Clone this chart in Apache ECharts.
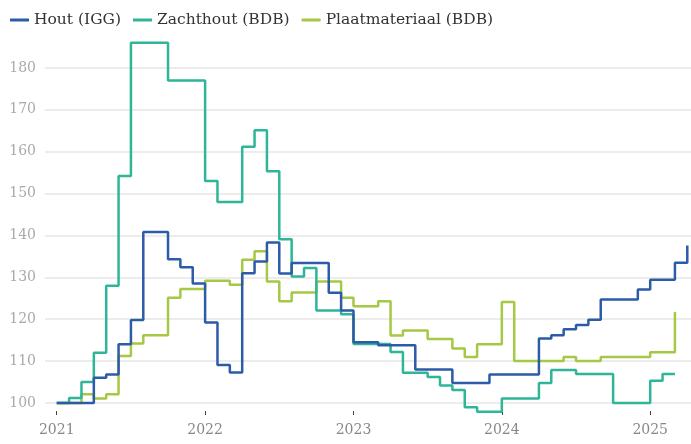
<!DOCTYPE html>
<html>
<head>
<meta charset="utf-8">
<script src="https://cdn.jsdelivr.net/npm/echarts@6/dist/echarts.min.js"></script>
<style>
  html, body { margin: 0; padding: 0; background: #fff; }
  #chart { width: 691px; height: 444px; }
</style>
</head>
<body>
<div id="chart"></div>
<script>
// maandwaarden vanaf januari 2021 (index 0 = jan 2021)
var hout = [100, 100, 100, 106.0, 106.8, 114, 119.8, 140.8, 140.8, 134.3, 132.4, 128.5,
  119.2, 109.1, 107.3, 131, 133.8, 138.3, 130.9, 133.4, 133.4, 133.4, 126.3, 122.1,
  114.5, 114.5, 113.8, 113.8, 113.8, 108, 108, 108, 104.8, 104.8, 104.8, 106.8,
  106.8, 106.8, 106.8, 115.4, 116.2, 117.6, 118.6, 119.9, 124.7, 124.7, 124.7, 127.1,
  129.4, 129.4, 133.5, 137.6];
var zachthout = [100, 101.2, 105, 112, 128, 154.2, 186, 186, 186, 177, 177, 177,
  153, 148, 148, 161.2, 165.1, 155.3, 139.1, 130.2, 132.2, 122.1, 122.1, 121.2,
  114.1, 114.1, 114.1, 112.2, 107.2, 107.2, 106.2, 104.2, 103.1, 99, 97.9, 97.9,
  101.1, 101.1, 101.1, 104.8, 107.9, 107.9, 106.9, 106.9, 106.9, 100, 100, 100,
  105.3, 106.9, 106.9];
var plaat = [100, 100, 102.1, 101.1, 102.1, 111.2, 114.2, 116.2, 116.2, 125.1, 127.2, 127.2,
  129.2, 129.2, 128.2, 134.2, 136.2, 129, 124.3, 126.4, 126.4, 129, 129, 125.1,
  123.1, 123.1, 124.3, 116.1, 117.3, 117.3, 115.3, 115.3, 113, 111, 114, 114,
  124.1, 110, 110, 110, 110, 111, 110, 110, 111, 111, 111, 111,
  112.1, 112.1, 121.7];
var yearLabels = ['2021', '2022', '2023', '2024', '2025'];
var yearTicks = [0, 12, 24, 36, 48];

var font = 'DejaVu Serif';

function pts(arr) {
  return arr.map(function (v, i) { return [i, v]; });
}

var chart = echarts.init(document.getElementById('chart'));
chart.setOption({
  animation: false,
  legend: {
    left: 5,
    top: 7,
    icon: 'rect',
    itemWidth: 19,
    itemHeight: 3,
    itemGap: 12,
    textStyle: { fontFamily: font, fontSize: 15.5, color: '#333' },
    data: ['Hout (IGG)', 'Zachthout (BDB)', 'Plaatmateriaal (BDB)']
  },
  grid: { left: 45, right: 0, top: 26, bottom: 41 },
  xAxis: {
    type: 'value',
    min: -0.95,
    max: 51.3,
    offset: 8,
    axisLine: { show: false },
    splitLine: { show: false },
    axisTick: {
      show: true,
      customValues: yearTicks,
      length: 4,
      lineStyle: { color: '#444', width: 1 }
    },
    axisLabel: {
      customValues: yearTicks,
      margin: 12,
      fontFamily: font,
      fontSize: 14,
      color: '#888',
      formatter: function (v) { return yearLabels[Math.round(v / 12)]; }
    }
  },
  yAxis: {
    type: 'value',
    min: 100,
    max: 190,
    interval: 10,
    axisLine: { show: false },
    axisTick: { show: false },
    axisLabel: {
      showMaxLabel: false,
      margin: 9,
      fontFamily: font,
      fontSize: 14,
      color: '#aaa'
    },
    splitLine: {
      showMaxLine: false,
      lineStyle: { color: '#e6e6e6', width: 1.5 }
    }
  },
  series: [
    {
      name: 'Hout (IGG)', type: 'line', step: 'end', showSymbol: false, clip: false, z: 4,
      data: pts(hout),
      itemStyle: { color: '#2c5ba7' },
      lineStyle: { color: '#2c5ba7', width: 2.5 }
    },
    {
      name: 'Zachthout (BDB)', type: 'line', step: 'end', showSymbol: false, clip: false, z: 3,
      data: pts(zachthout),
      itemStyle: { color: '#2fb597' },
      lineStyle: { color: '#2fb597', width: 2.5 }
    },
    {
      name: 'Plaatmateriaal (BDB)', type: 'line', step: 'end', showSymbol: false, clip: false, z: 2,
      data: pts(plaat),
      itemStyle: { color: '#a5c845' },
      lineStyle: { color: '#a5c845', width: 2.5 }
    }
  ]
});
</script>
</body>
</html>
